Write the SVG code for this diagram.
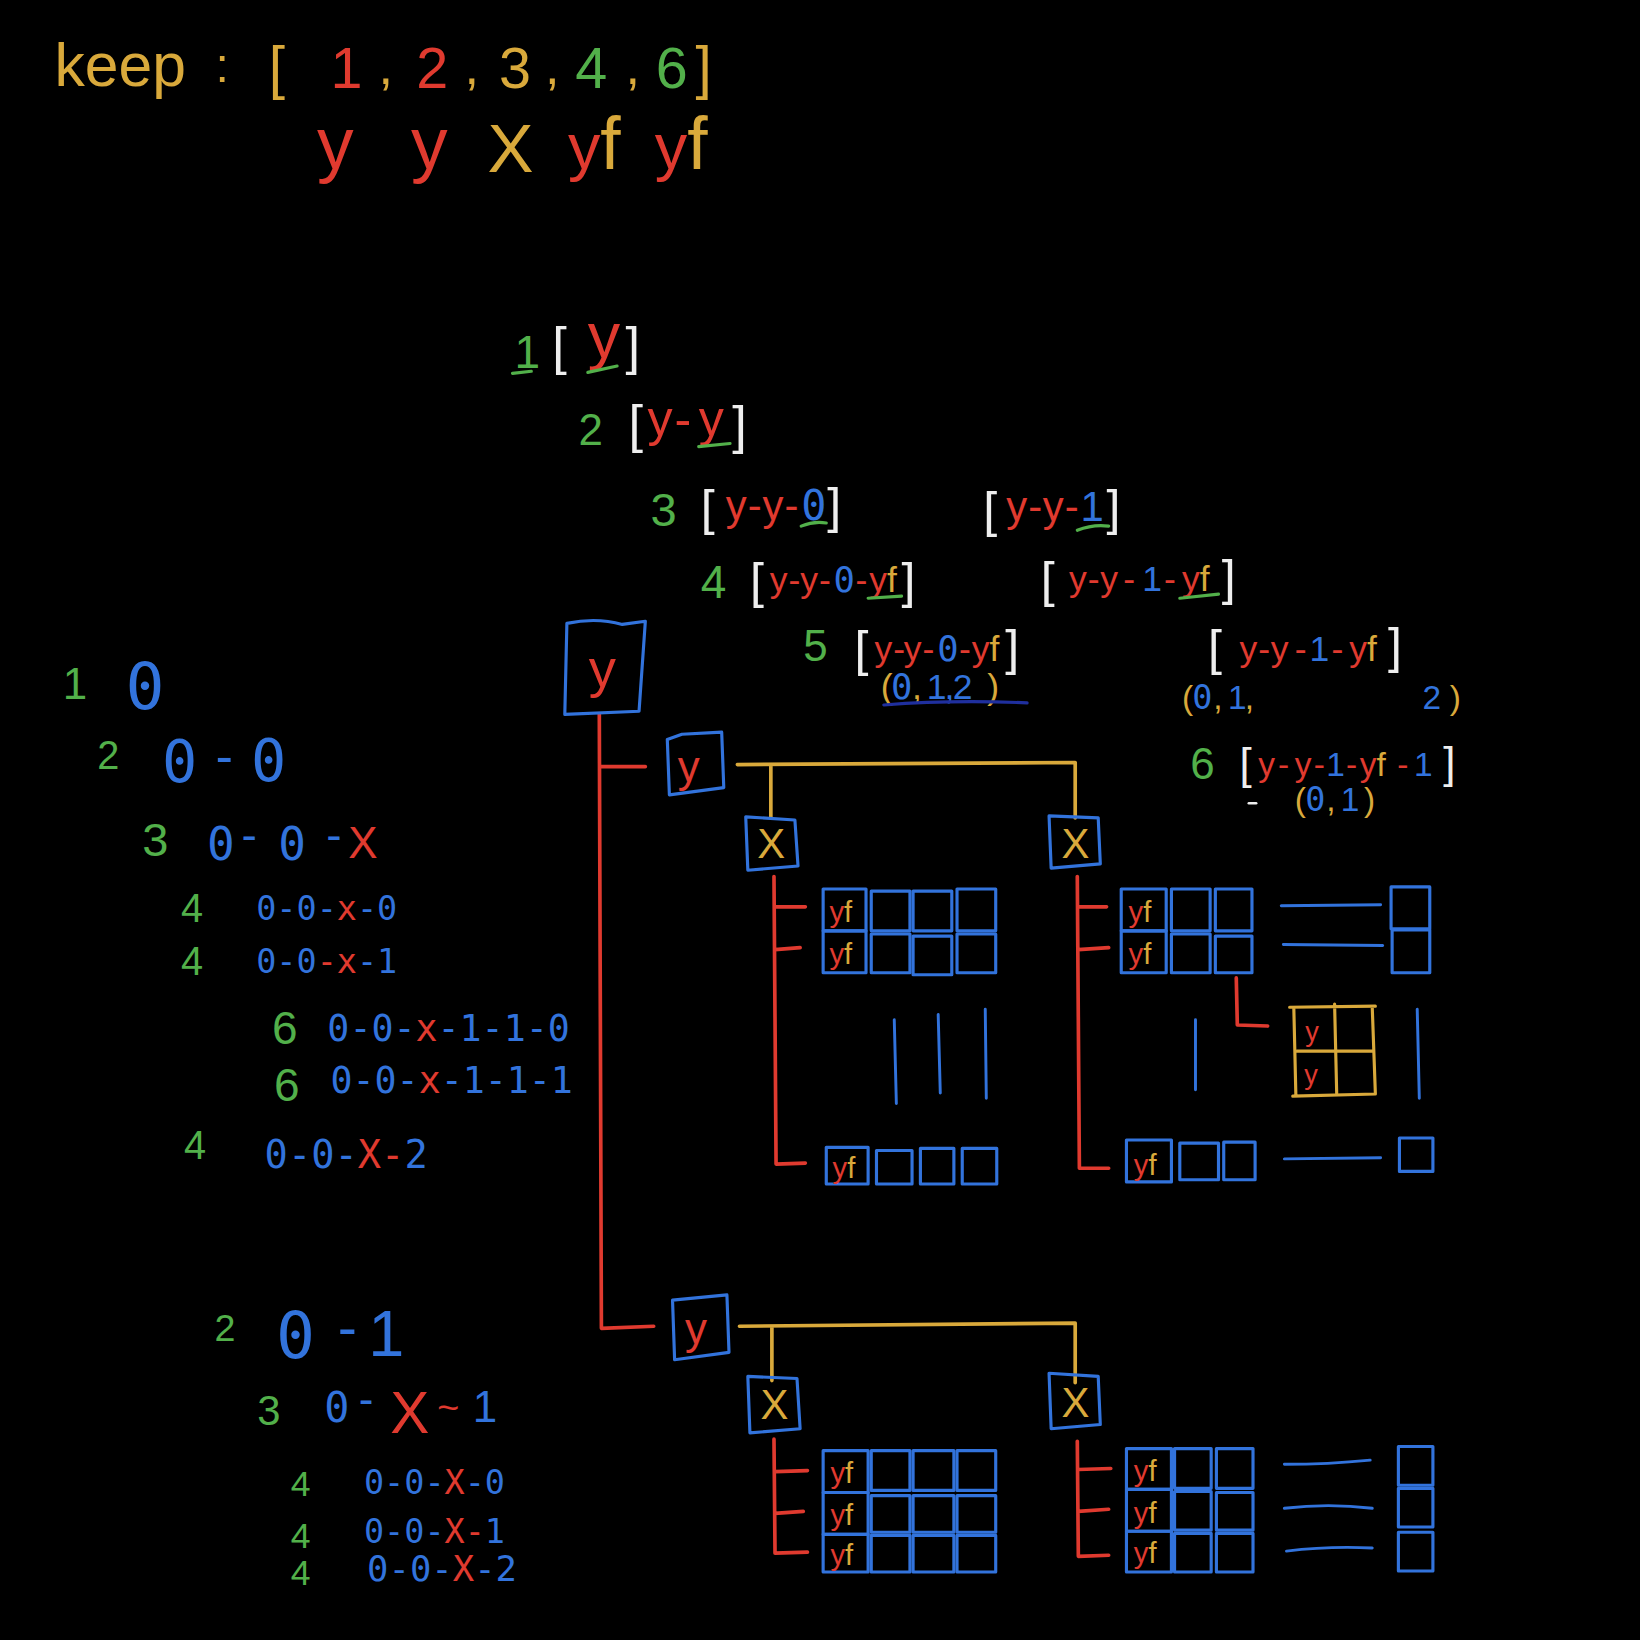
<svg xmlns="http://www.w3.org/2000/svg" width="1640" height="1640" viewBox="0 0 1640 1640">
<style>
text{font-family:"Liberation Sans","DejaVu Sans",sans-serif}
.m{font-family:"DejaVu Sans Mono","Liberation Mono",monospace}
.r{fill:#e03a2f}.g{fill:#52b04a}.b{fill:#3273dc}.y{fill:#d9a93b}.w{fill:#eeeeee}
.box{fill:none;stroke:#3273dc;stroke-width:3;stroke-linejoin:round}
.ybox{fill:none;stroke:#d9a93b;stroke-width:3;stroke-linecap:round}
.rl{fill:none;stroke:#e03a2f;stroke-width:3.5;stroke-linecap:round;stroke-linejoin:round}
.yl{fill:none;stroke:#d9a93b;stroke-width:3.5;stroke-linecap:round}
.bl{fill:none;stroke:#3273dc;stroke-width:2.8;stroke-linecap:round}
.gl{fill:none;stroke:#52b04a;stroke-width:3;stroke-linecap:round}
.wl{fill:none;stroke:#eeeeee;stroke-width:2.5;stroke-linecap:round}
.nl{fill:none;stroke:#1f2f9e;stroke-width:3;stroke-linecap:round}
.yf{font-size:28px}
</style>
<rect width="1640" height="1640" fill="#000"/>
<g transform="scale(1.045918)">

<g id="keep-line">
<text x="52" y="82" font-size="58" class="y">keep</text>
<text x="206" y="78" font-size="46" class="y">:</text>
<text x="257" y="84" font-size="56" class="y">[</text>
<text x="316" y="84" font-size="55" class="r">1</text>
<text x="362" y="80" font-size="50" class="y">,</text>
<text x="398" y="84" font-size="55" class="r">2</text>
<text x="444" y="80" font-size="50" class="y">,</text>
<text x="477" y="84" font-size="55" class="y">3</text>
<text x="521" y="80" font-size="50" class="y">,</text>
<text x="550" y="84" font-size="55" class="g">4</text>
<text x="598" y="80" font-size="50" class="y">,</text>
<text x="627" y="84" font-size="55" class="g">6</text>
<text x="665" y="84" font-size="56" class="y">]</text>
</g>
<g id="keep-types">
<text x="303" y="162" font-size="70" class="r">y</text>
<text x="393" y="162" font-size="70" class="r">y</text>
<text x="466" y="164" font-size="66" class="y">X</text>
<text x="543" y="162"><tspan class="r" font-size="62">y</tspan><tspan class="y" font-size="70">f</tspan></text>
<text x="626" y="162"><tspan class="r" font-size="62">y</tspan><tspan class="y" font-size="70">f</tspan></text>
</g>

<g id="path-1">
<text x="492" y="352" font-size="44" class="g">1</text>
<text x="528" y="348" font-size="50" class="w">[</text>
<text x="562" y="342" font-size="62" class="r">y</text>
<text x="598" y="348" font-size="50" class="w">]</text>
<path class="gl" d="M490 357 L508 355 M562 356 L590 350"/>
</g>
<g id="path-2">
<text x="553" y="425" font-size="42" class="g">2</text>
<text x="601" y="423" font-size="50" class="w">[</text>
<text x="619" y="417" font-size="48" class="r"><tspan>y</tspan><tspan x="645">-</tspan><tspan x="668">y</tspan></text>
<text x="700" y="424" font-size="50" class="w">]</text>
<path class="gl" d="M668 427 L698 424"/>
</g>
<g id="path-3a">
<text x="622" y="503" font-size="45" class="g">3</text>
<text x="670" y="502" font-size="48" class="w">[</text>
<text y="497" font-size="40" class="r"><tspan x="694">y</tspan><tspan x="715">-</tspan><tspan x="729">y</tspan><tspan x="750">-</tspan></text>
<text x="766" y="497" font-size="40" class="b m">0</text>
<text x="791" y="500" font-size="48" class="w">]</text>
<path class="gl" d="M766 503 Q778 498 790 500"/>
</g>
<g id="path-3b">
<text x="940" y="504" font-size="48" class="w">[</text>
<text y="498" font-size="40" class="r"><tspan x="962">y</tspan><tspan x="983">-</tspan><tspan x="997">y</tspan><tspan x="1018">-</tspan></text>
<text x="1033" y="498" font-size="40" class="b">1</text>
<text x="1058" y="502" font-size="48" class="w">]</text>
<path class="gl" d="M1030 507 Q1045 501 1060 503"/>
</g>
<g id="path-4a">
<text x="670" y="572" font-size="44" class="g">4</text>
<text x="717" y="572" font-size="48" class="w">[</text>
<text y="566" font-size="34"><tspan class="r" x="736">y</tspan><tspan class="r" x="754">-</tspan><tspan class="r" x="765">y</tspan><tspan class="r" x="783">-</tspan><tspan class="b m" x="797">0</tspan><tspan class="r" x="818">-</tspan><tspan class="r" x="831">y</tspan><tspan class="y" x="848">f</tspan></text>
<text x="862" y="572" font-size="48" class="w">]</text>
<path class="gl" d="M830 572 L862 570"/>
</g>
<g id="path-4b">
<text x="995" y="571" font-size="48" class="w">[</text>
<text y="565" font-size="34"><tspan class="r" x="1022">y</tspan><tspan class="r" x="1040">-</tspan><tspan class="r" x="1052">y</tspan><tspan class="r" x="1074">-</tspan><tspan class="b" x="1092">1</tspan><tspan class="r" x="1113">-</tspan><tspan class="r" x="1130">y</tspan><tspan class="y" x="1147">f</tspan></text>
<text x="1168" y="569" font-size="48" class="w">]</text>
<path class="gl" d="M1128 572 L1165 568"/>
</g>
<g id="path-5a">
<text x="768" y="632" font-size="42" class="g">5</text>
<text x="817" y="637" font-size="48" class="w">[</text>
<text y="632" font-size="34"><tspan class="r" x="836">y</tspan><tspan class="r" x="854">-</tspan><tspan class="r" x="864">y</tspan><tspan class="r" x="882">-</tspan><tspan class="b m" x="896">0</tspan><tspan class="r" x="917">-</tspan><tspan class="r" x="929">y</tspan><tspan class="y" x="946">f</tspan></text>
<text x="961" y="636" font-size="48" class="w">]</text>
<text y="668" font-size="34"><tspan class="y" x="842">(</tspan><tspan class="b m" x="852">0</tspan><tspan class="y" x="872">,</tspan><tspan class="b" x="886">1</tspan><tspan class="b" x="903">,</tspan><tspan class="b" x="911">2</tspan><tspan class="y" x="944">)</tspan></text>
<path class="nl" d="M845 674 Q910 669 982 672"/>
</g>
<g id="path-5b">
<text x="1155" y="636" font-size="48" class="w">[</text>
<text y="632" font-size="34"><tspan class="r" x="1185">y</tspan><tspan class="r" x="1203">-</tspan><tspan class="r" x="1215">y</tspan><tspan class="r" x="1238">-</tspan><tspan class="b" x="1252">1</tspan><tspan class="r" x="1273">-</tspan><tspan class="r" x="1290">y</tspan><tspan class="y" x="1307">f</tspan></text>
<text x="1327" y="634" font-size="48" class="w">]</text>
<text y="678" font-size="32"><tspan class="y" x="1130">(</tspan><tspan class="b m" x="1140">0</tspan><tspan class="y" x="1160">,</tspan><tspan class="b" x="1174">1</tspan><tspan class="y" x="1190">,</tspan><tspan class="b" x="1360">2</tspan><tspan class="y" x="1386">)</tspan></text>
</g>
<g id="path-6">
<text x="1138" y="745" font-size="42" class="g">6</text>
<text x="1185" y="745" font-size="42" class="w">[</text>
<text y="742" font-size="32"><tspan class="r" x="1203">y</tspan><tspan class="r" x="1222">-</tspan><tspan class="r" x="1238">y</tspan><tspan class="r" x="1256">-</tspan><tspan class="b" x="1268">1</tspan><tspan class="r" x="1287">-</tspan><tspan class="r" x="1300">y</tspan><tspan class="y" x="1316">f</tspan><tspan class="r" x="1336">-</tspan><tspan class="b" x="1352">1</tspan></text>
<text x="1380" y="744" font-size="42" class="w">]</text>
<text y="775" font-size="32"><tspan class="y" x="1238">(</tspan><tspan class="b m" x="1248">0</tspan><tspan class="y" x="1268">,</tspan><tspan class="b" x="1282">1</tspan><tspan class="y" x="1304">)</tspan></text>
<path class="wl" d="M1194 768 L1201 768"/>
</g>

<g id="seq-left">
<text x="60" y="668" font-size="42" class="g">1</text>
<text x="120" y="678" font-size="62" class="b m">0</text>
<text x="93" y="735" font-size="38" class="g">2</text>
<text x="155" y="748" font-size="56" class="b m">0</text>
<text x="206" y="740" font-size="50" class="b">-</text>
<text x="240" y="747" font-size="56" class="b m">0</text>
<text x="136" y="818" font-size="45" class="g">3</text>
<text x="198" y="822" font-size="44" class="b m">0</text>
<text x="231" y="814" font-size="44" class="b">-</text>
<text x="266" y="822" font-size="44" class="b m">0</text>
<text x="312" y="814" font-size="44" class="b">-</text>
<text x="333" y="820" font-size="42" class="r">X</text>
<text x="173" y="882" font-size="38" class="g">4</text>
<text x="245" y="880" font-size="32" class="m"><tspan class="b">0-0-</tspan><tspan class="r">x</tspan><tspan class="b">-0</tspan></text>
<text x="173" y="932" font-size="38" class="g">4</text>
<text x="245" y="930" font-size="32" class="m"><tspan class="b">0-0</tspan><tspan class="r">-x</tspan><tspan class="b">-1</tspan></text>
<text x="260" y="998" font-size="44" class="g">6</text>
<text x="313" y="995" font-size="35" class="m"><tspan class="b">0-0-</tspan><tspan class="r">x</tspan><tspan class="b">-1-1-0</tspan></text>
<text x="262" y="1053" font-size="44" class="g">6</text>
<text x="316" y="1045" font-size="35" class="m"><tspan class="b">0-0-</tspan><tspan class="r">x</tspan><tspan class="b">-1-1-1</tspan></text>
<text x="176" y="1108" font-size="38" class="g">4</text>
<text x="253" y="1117" font-size="37" class="m"><tspan class="b">0-0-</tspan><tspan class="r">X-</tspan><tspan class="b">2</tspan></text>
</g>
<g id="seq-left-2">
<text x="205" y="1282" font-size="36" class="g">2</text>
<text x="264" y="1298" font-size="62" class="b m">0</text>
<text x="323" y="1288" font-size="55" class="b">-</text>
<text x="352" y="1296" font-size="62" class="b">1</text>
<text x="246" y="1362" font-size="40" class="g">3</text>
<text x="310" y="1360" font-size="40" class="b m">0</text>
<text x="343" y="1352" font-size="42" class="b">-</text>
<text x="373" y="1370" font-size="56" class="r">X</text>
<text x="418" y="1358" font-size="36" class="r">~</text>
<text x="452" y="1360" font-size="42" class="b">1</text>
<text x="278" y="1430" font-size="34" class="g">4</text>
<text x="348" y="1428" font-size="32" class="m"><tspan class="b">0-0-</tspan><tspan class="r">X</tspan><tspan class="b">-0</tspan></text>
<text x="278" y="1480" font-size="34" class="g">4</text>
<text x="348" y="1475" font-size="32" class="m"><tspan class="b">0-0-</tspan><tspan class="r">X-</tspan><tspan class="b">1</tspan></text>
<text x="278" y="1515" font-size="34" class="g">4</text>
<text x="351" y="1512" font-size="34" class="m"><tspan class="b">0-0-</tspan><tspan class="r">X</tspan><tspan class="b">-2</tspan></text>
</g>

<g id="connectors">
<path class="rl" d="M573 683 L575 1270 L625 1268"/>
<path class="rl" d="M574 733 L617 733"/>
<path class="yl" d="M705 731 L1028 729 M737 731 L737 782 M1028 729 L1028 782"/>
<path class="yl" d="M707 1268 L1028 1265 M738 1268 L738 1320 M1028 1265 L1028 1322"/>
<path class="rl" d="M740 838 L742 1113 L770 1112 M741 867 L770 867 M741 908 L765 906"/>
<path class="rl" d="M1030 838 L1032 1117 L1060 1117 M1031 867 L1058 867 M1031 908 L1060 906"/>
<path class="rl" d="M1182 935 L1183 980 L1212 981"/>
<path class="rl" d="M740 1376 L741 1485 L772 1484 M741 1407 L772 1406 M741 1447 L768 1445"/>
<path class="rl" d="M1030 1378 L1031 1488 L1060 1487 M1031 1405 L1062 1404 M1031 1445 L1060 1443"/>
</g>

<g id="node-root-y">
<path class="box" d="M542 596 Q570 590 595 597 L617 594 L611 680 L540 683 Z"/>
<text x="563" y="657" font-size="52" class="r">y</text>
</g>
<g id="node-y1">
<path class="box" d="M638 707 L652 702 L690 700 L692 753 L640 760 Z"/>
<text x="648" y="748" font-size="42" class="r">y</text>
</g>
<g id="node-y1-x0">
<path class="box" d="M713 781 L760 784 L763 828 L715 832 Z"/>
<text x="724" y="820" font-size="40" class="y">X</text>
</g>
<g id="node-y1-x1">
<path class="box" d="M1003 780 L1050 782 L1052 826 L1005 830 Z"/>
<text x="1015" y="820" font-size="40" class="y">X</text>
</g>
<g id="node-y2">
<path class="box" d="M643 1243 L695 1238 L697 1293 L645 1300 Z"/>
<text x="655" y="1285" font-size="42" class="r">y</text>
</g>
<g id="node-y2-x0">
<path class="box" d="M715 1316 L762 1318 L765 1366 L717 1370 Z"/>
<text x="727" y="1357" font-size="40" class="y">X</text>
</g>
<g id="node-y2-x1">
<path class="box" d="M1003 1313 L1050 1316 L1052 1362 L1005 1366 Z"/>
<text x="1015" y="1355" font-size="40" class="y">X</text>
</g>

<g id="grid-a">
<rect class="box" x="787" y="850" width="41" height="40"/>
<rect class="box" x="787" y="890" width="41" height="40"/>
<rect class="box" x="833" y="852" width="37" height="38"/>
<rect class="box" x="873" y="852" width="37" height="38"/>
<rect class="box" x="915" y="850" width="37" height="40"/>
<rect class="box" x="833" y="893" width="37" height="37"/>
<rect class="box" x="873" y="895" width="37" height="37"/>
<rect class="box" x="915" y="893" width="37" height="37"/>
<text class="yf" x="793" y="882"><tspan class="r">y</tspan><tspan class="y">f</tspan></text>
<text class="yf" x="793" y="922"><tspan class="r">y</tspan><tspan class="y">f</tspan></text>
<path class="bl" d="M855 975 L857 1055 M897 970 L899 1045 M942 965 L943 1050"/>
<rect class="box" x="790" y="1097" width="40" height="35"/>
<rect class="box" x="838" y="1100" width="34" height="32"/>
<rect class="box" x="880" y="1098" width="32" height="34"/>
<rect class="box" x="920" y="1098" width="33" height="34"/>
<text class="yf" x="796" y="1126"><tspan class="r">y</tspan><tspan class="y">f</tspan></text>
</g>
<g id="grid-b">
<rect class="box" x="1072" y="850" width="43" height="40"/>
<rect class="box" x="1072" y="890" width="43" height="40"/>
<rect class="box" x="1120" y="850" width="37" height="40"/>
<rect class="box" x="1162" y="850" width="35" height="40"/>
<rect class="box" x="1120" y="893" width="37" height="37"/>
<rect class="box" x="1162" y="895" width="35" height="35"/>
<text class="yf" x="1079" y="882"><tspan class="r">y</tspan><tspan class="y">f</tspan></text>
<text class="yf" x="1079" y="922"><tspan class="r">y</tspan><tspan class="y">f</tspan></text>
<path class="bl" d="M1225 866 L1320 865 M1227 903 L1322 904"/>
<rect class="box" x="1330" y="848" width="37" height="40"/>
<rect class="box" x="1331" y="889" width="36" height="41"/>
<path class="bl" d="M1143 975 L1143 1042 M1355 965 L1357 1050"/>
<rect class="box" x="1077" y="1090" width="43" height="40"/>
<rect class="box" x="1128" y="1093" width="37" height="35"/>
<rect class="box" x="1170" y="1092" width="30" height="36"/>
<path class="bl" d="M1228 1108 L1320 1107"/>
<rect class="box" x="1338" y="1088" width="32" height="32"/>
<text class="yf" x="1084" y="1123"><tspan class="r">y</tspan><tspan class="y">f</tspan></text>
</g>
<g id="yellow-grid">
<path class="ybox" d="M1233 963 L1315 962 M1237 963 L1239 1048 M1312 963 L1315 1046 M1236 1048 L1315 1046 M1276 960 L1278 1045 M1240 1005 L1312 1005"/>
<text x="1248" y="995" font-size="26" class="r">y</text>
<text x="1247" y="1036" font-size="26" class="r">y</text>
</g>

<g id="grid-c">
<rect class="box" x="787" y="1387" width="43" height="40"/>
<rect class="box" x="787" y="1427" width="43" height="40"/>
<rect class="box" x="787" y="1467" width="43" height="36"/>
<rect class="box" x="833" y="1387" width="37" height="38"/>
<rect class="box" x="873" y="1387" width="39" height="38"/>
<rect class="box" x="915" y="1387" width="37" height="38"/>
<rect class="box" x="833" y="1430" width="37" height="35"/>
<rect class="box" x="873" y="1430" width="39" height="35"/>
<rect class="box" x="915" y="1430" width="37" height="35"/>
<rect class="box" x="833" y="1468" width="37" height="35"/>
<rect class="box" x="873" y="1468" width="39" height="35"/>
<rect class="box" x="915" y="1468" width="37" height="35"/>
<text class="yf" x="794" y="1418"><tspan class="r">y</tspan><tspan class="y">f</tspan></text>
<text class="yf" x="794" y="1458"><tspan class="r">y</tspan><tspan class="y">f</tspan></text>
<text class="yf" x="794" y="1496"><tspan class="r">y</tspan><tspan class="y">f</tspan></text>
</g>
<g id="grid-d">
<rect class="box" x="1077" y="1385" width="43" height="39"/>
<rect class="box" x="1077" y="1424" width="43" height="40"/>
<rect class="box" x="1077" y="1464" width="43" height="39"/>
<rect class="box" x="1123" y="1385" width="35" height="38"/>
<rect class="box" x="1163" y="1385" width="35" height="38"/>
<rect class="box" x="1123" y="1426" width="35" height="37"/>
<rect class="box" x="1163" y="1427" width="35" height="36"/>
<rect class="box" x="1123" y="1466" width="35" height="37"/>
<rect class="box" x="1163" y="1466" width="35" height="37"/>
<text class="yf" x="1084" y="1416"><tspan class="r">y</tspan><tspan class="y">f</tspan></text>
<text class="yf" x="1084" y="1456"><tspan class="r">y</tspan><tspan class="y">f</tspan></text>
<text class="yf" x="1084" y="1494"><tspan class="r">y</tspan><tspan class="y">f</tspan></text>
<path class="bl" d="M1228 1400 Q1270 1400 1310 1396 M1228 1442 Q1270 1437 1312 1442 M1230 1483 Q1270 1478 1312 1480"/>
<rect class="box" x="1337" y="1383" width="33" height="37"/>
<rect class="box" x="1337" y="1423" width="33" height="37"/>
<rect class="box" x="1337" y="1465" width="33" height="37"/>
</g>

</g>
</svg>
